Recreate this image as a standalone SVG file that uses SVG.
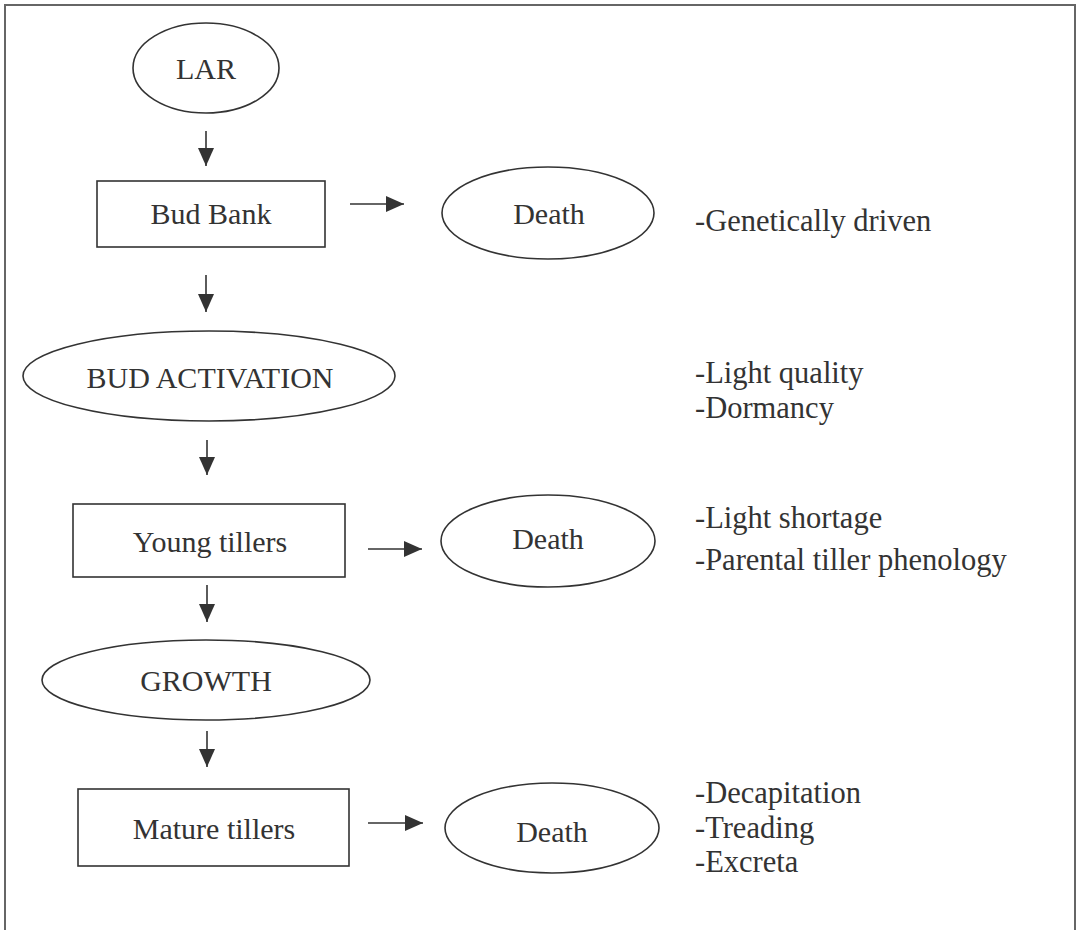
<svg xmlns="http://www.w3.org/2000/svg" width="1077" height="930" viewBox="0 0 1077 930">
<defs>
<style>
.frame{fill:none;stroke:#666;stroke-width:2}
.shape{fill:#fff;stroke:#333;stroke-width:1.6}
.lbl{font-family:"Liberation Serif","Times New Roman",serif;font-size:30px;fill:#333;text-anchor:middle}
.note{font-family:"Liberation Serif","Times New Roman",serif;font-size:30.5px;fill:#333}
.conn line{stroke:#333;stroke-width:1.6}
</style>
<marker id="ah" markerUnits="userSpaceOnUse" markerWidth="19" markerHeight="17" refX="18" refY="8.5" orient="auto">
<path d="M0,0.5 L18,8.5 L0,16.5 z" fill="#333"/>
</marker>
</defs>
<rect width="1077" height="930" fill="#fff"/>
<path class="frame" d="M5,935 L5,5 L1075,5 L1075,935"/>

<g id="lar"><ellipse class="shape" cx="206" cy="68" rx="73" ry="45"/><text class="lbl" x="206" y="79">LAR</text></g>
<g id="budbank"><rect class="shape" x="97" y="181" width="228" height="66"/><text class="lbl" x="211" y="224">Bud Bank</text></g>
<g id="death1"><ellipse class="shape" cx="548" cy="213" rx="106" ry="46"/><text class="lbl" x="549" y="224">Death</text></g>
<g id="budact"><ellipse class="shape" cx="209" cy="376" rx="186" ry="45"/><text class="lbl" x="210" y="388">BUD ACTIVATION</text></g>
<g id="young"><rect class="shape" x="73" y="504" width="272" height="73"/><text class="lbl" x="210" y="552">Young tillers</text></g>
<g id="death2"><ellipse class="shape" cx="548" cy="541" rx="107" ry="46"/><text class="lbl" x="548" y="549">Death</text></g>
<g id="growth"><ellipse class="shape" cx="206" cy="680" rx="164" ry="40"/><text class="lbl" x="206" y="691">GROWTH</text></g>
<g id="mature"><rect class="shape" x="78" y="789" width="271" height="77"/><text class="lbl" x="214" y="839">Mature tillers</text></g>
<g id="death3"><ellipse class="shape" cx="552" cy="828" rx="107" ry="45"/><text class="lbl" x="552" y="842">Death</text></g>

<g id="notes">
<text class="note" x="695" y="231">-Genetically driven</text>
<text class="note" x="695" y="383">-Light quality</text>
<text class="note" x="695" y="418">-Dormancy</text>
<text class="note" x="695" y="528">-Light shortage</text>
<text class="note" x="695" y="570">-Parental tiller phenology</text>
<text class="note" x="695" y="803">-Decapitation</text>
<text class="note" x="695" y="838">-Treading</text>
<text class="note" x="695" y="872">-Excreta</text>
</g>

<g id="connectors" class="conn">
<line x1="206" y1="131" x2="206" y2="166" marker-end="url(#ah)"/>
<line x1="350" y1="204" x2="404" y2="204" marker-end="url(#ah)"/>
<line x1="206" y1="275" x2="206" y2="312" marker-end="url(#ah)"/>
<line x1="207" y1="440" x2="207" y2="475" marker-end="url(#ah)"/>
<line x1="368" y1="549" x2="422" y2="549" marker-end="url(#ah)"/>
<line x1="207" y1="585" x2="207" y2="622" marker-end="url(#ah)"/>
<line x1="207" y1="731" x2="207" y2="767" marker-end="url(#ah)"/>
<line x1="368" y1="823" x2="423" y2="823" marker-end="url(#ah)"/>
</g>
</svg>
